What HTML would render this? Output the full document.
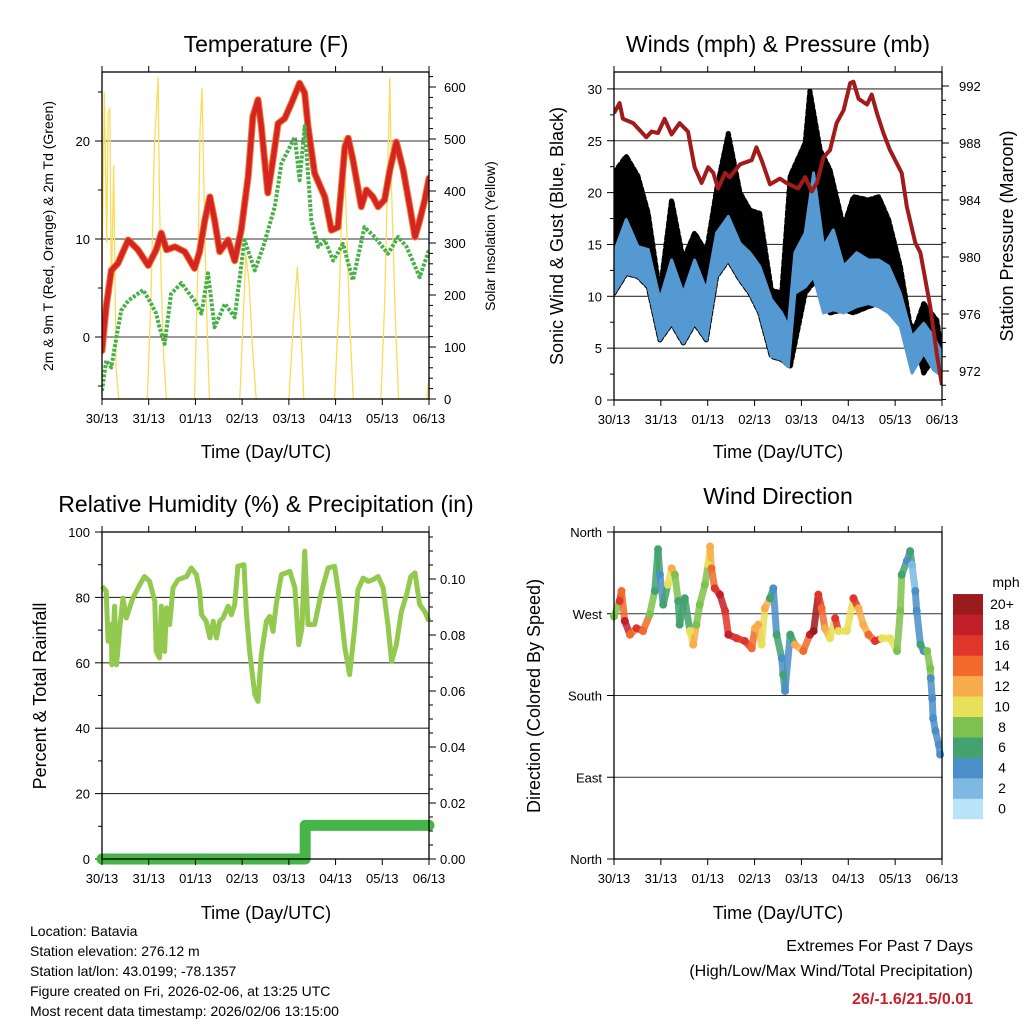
<!DOCTYPE html>
<html><head><meta charset="utf-8"><style>
body{margin:0;background:#fff}
svg{display:block;font-family:"Liberation Sans",Arial,sans-serif}
</style></head><body>
<svg id="chart" width="1024" height="1024" viewBox="0 0 1024 1024" xmlns="http://www.w3.org/2000/svg"></svg>
<script>
// ---------- DATA ----------
const dayLabels = ['30/13','31/13','01/13','02/13','03/13','04/13','05/13','06/13'];
// Temperature (F)
const tempT = [0,.09,.2,.34,.56,.77,.99,1.16,1.27,1.38,1.56,1.77,1.98,2.09,2.2,2.31,2.41,2.52,2.7,2.84,2.98,3.13,3.23,3.34,3.41,3.55,3.66,3.77,3.91,4.05,4.23,4.34,4.41,4.55,4.77,4.91,5.05,5.2,5.27,5.37,5.55,5.66,5.8,5.91,6.05,6.16,6.3,6.45,6.59,6.7,6.8,6.91,7];
const tempV = [-1.4,3.1,6.8,7.5,9.9,8.9,7.3,8.9,10.6,8.9,9.2,8.7,7.0,8.7,11.9,14.3,11.9,8.7,9.9,7.8,10.9,16.4,22.5,24.2,21.5,14.7,18.1,21.8,22.3,23.8,25.9,24.9,21.5,16.7,14.3,10.9,11.2,19.4,20.3,18.1,13.3,15.0,14.3,13.3,14.0,17.0,19.9,17.0,13.3,10.2,11.9,14.0,16.2];
const dewT = [0,.09,.2,.31,.41,.56,.88,1.02,1.16,1.23,1.34,1.48,1.7,1.98,2.13,2.27,2.41,2.63,2.84,3.05,3.27,3.45,3.7,3.84,4.13,4.23,4.34,4.48,4.63,4.77,4.95,5.16,5.37,5.62,5.84,6.12,6.34,6.52,6.8,7];
const dewV = [-5.5,-2.4,-3.1,0,2.7,3.7,4.8,3.7,2.4,1.0,-0.7,4.4,5.5,3.7,2.4,6.5,1.0,3.4,2.0,9.9,6.8,9.2,13.3,17.7,20.4,16.0,21.5,11.9,9.2,9.9,7.8,9.5,5.8,11.2,10.2,8.5,10.2,9.2,6.1,8.9];
const solarT = [0,.05,.1,.13,.17,.2,.25,.3,.36, .97,1.05,1.12,1.2,1.23,1.27,1.32,1.38, 1.98,2.05,2.1,2.14,2.18,2.23,2.3, 2.95,3.02,3.08,3.15,3.22,3.3, 4.0,4.1,4.18,4.25,4.32, 4.98,5.08,5.15,5.18,5.22,5.3,5.38, 5.97,6.05,6.12,6.16,6.2,6.28,6.35, 6.95,7];
const solarV = [250,590,300,550,560,200,450,60,0, 0,200,480,620,380,220,80,0, 0,250,520,598,420,200,0, 0,150,280,220,100,0, 0,150,254,150,0, 0,200,420,504,380,150,0, 0,180,450,618,400,150,0, 0,40];
// Winds (mph) & pressure (mb)
const windT = [0,.26,.51,.73,.98,1.23,1.48,1.72,1.97,2.19,2.44,2.69,2.9,3.11,3.36,3.58,3.72,3.86,4.08,4.26,4.47,4.68,4.9,5.18,5.43,5.65,5.86,6.11,6.36,6.61,6.82,7];
const windLow = [10.3,12.2,11.9,10.9,5.8,7.4,5.5,7.4,5.8,11.9,13.5,11.6,10.3,8.4,4.2,3.9,3.2,10.3,10.9,11.9,8.4,8.7,8.4,9.0,9.3,9.0,8.4,7.1,2.6,4.5,2.9,2.3];
const windHigh = [14.2,17.4,14.8,14.5,9.7,13.5,10.3,13.5,10.6,16.1,17.7,15.1,14.2,12.9,9.7,8.4,7.1,14.2,16.1,21.9,14.8,16.4,12.9,14.2,13.5,13.5,12.9,10.3,6.1,7.4,6.1,4.5];
const gustT = [0,.26,.51,.73,.98,1.23,1.48,1.72,1.97,2.19,2.44,2.69,2.9,3.11,3.36,3.58,3.76,4.08,4.18,4.4,4.61,4.9,5.11,5.43,5.65,5.86,6.11,6.36,6.61,6.89,7];
const gustHigh = [21.9,23.5,21.6,18,10.3,19.3,13.5,16.1,14.2,20.3,25.7,20,18.3,18,10.6,10.3,21.6,24.8,29.8,24.1,22.2,16.7,19.6,19.3,19.6,17.4,12.9,6.1,9.3,7.7,4.5];
const presT = [0,.12,.19,.41,.69,.80,.94,1.08,1.23,1.40,1.58,1.72,1.87,2.01,2.12,2.22,2.37,2.47,2.69,2.94,3.04,3.15,3.33,3.54,3.68,3.93,4.08,4.22,4.33,4.47,4.61,4.75,4.9,5.04,5.11,5.22,5.4,5.5,5.61,5.75,5.89,6.14,6.25,6.43,6.54,6.75,6.89,7];
const presV = [990.1,990.8,989.7,989.4,988.4,988.8,988.7,989.7,988.6,989.4,988.8,986.3,985.2,986.3,985.9,984.8,985.9,985.6,986.5,986.8,987.7,986.8,985.1,985.5,985.2,984.8,985.6,984.6,985.2,987.0,987.5,989.4,990.3,992.2,992.3,991.1,990.7,991.4,990.1,988.7,987.5,985.9,983.5,981.0,980.3,976.5,973.2,971.0];
// Relative humidity (%) & precipitation (in)
const rhT = [0,.09,.13,.2,.21,.27,.31,.38,.45,.52,.66,.81,.91,1.02,1.13,1.16,1.23,1.27,1.34,1.38,1.45,1.52,1.63,1.81,1.91,2.02,2.09,2.13,2.23,2.31,2.38,2.45,2.52,2.59,2.7,2.77,2.84,2.91,3.04,3.09,3.16,3.27,3.34,3.41,3.52,3.59,3.66,3.73,3.84,3.95,4.02,4.13,4.21,4.28,4.32,4.34,4.41,4.55,4.7,4.84,4.98,5.09,5.2,5.3,5.41,5.48,5.59,5.7,5.8,5.91,6.02,6.12,6.2,6.3,6.41,6.52,6.61,6.7,6.8,6.91,7];
const rhV = [83.4,81.9,66.6,71.7,59.4,77.3,59.4,70.6,79.8,73.7,79.8,83.9,86.4,84.9,78.8,63.5,61.5,77.3,63.5,76.8,71.7,82.9,85.4,86.4,89.0,87.0,81.9,74.7,72.7,67.6,72.7,67.6,72.7,73.7,77.3,74.7,77.8,89.5,90.0,75.7,63.5,50.3,48.2,62.5,72.7,74.2,69.6,77.8,87.0,87.5,88.0,82.9,65.5,70.6,86.4,94.1,71.7,71.7,81.9,89.0,89.5,78.8,64.5,56.4,70.6,82.4,85.9,84.9,85.4,86.4,82.9,71.7,60.4,65.5,75.7,80.8,86.4,87.5,77.8,75.7,72.7];
const precipT = [0,4.35,4.35,7];
const precipV = [0,0,0.012,0.012];
// Wind direction (deg) colored by speed (mph)
const dirT = [0,.12,.16,.23,.34,.48,.62,.76,.87,.94,.98,1.05,1.15,1.23,1.30,1.37,1.40,1.51,1.62,1.69,1.76,1.83,1.94,2.01,2.05,2.08,2.15,2.26,2.37,2.44,2.62,2.79,2.94,3.01,3.08,3.15,3.22,3.33,3.40,3.47,3.58,3.61,3.65,3.76,3.86,4.04,4.18,4.26,4.36,4.43,4.50,4.61,4.72,4.79,4.97,5.11,5.22,5.32,5.43,5.57,5.72,5.89,6.04,6.11,6.14,6.25,6.32,6.36,6.43,6.46,6.54,6.61,6.68,6.75,6.76,6.79,6.81,6.86,6.93,6.96];
const dirV = [267,284,295,262,247,254,251,269,295,341,313,280,302,320,313,284,258,287,251,236,258,280,302,324,344,320,298,291,273,247,243,240,232,254,258,236,276,287,298,247,221,203,185,247,236,229,247,251,291,276,254,243,265,251,251,287,276,258,247,240,243,243,229,273,313,328,339,324,295,273,236,229,229,210,199,177,155,141,126,115];
const dirSpd = [8,16,14,18,14,16,14,8,6,6,4,6,10,12,8,6,6,6,10,12,8,8,8,10,12,14,16,18,16,18,16,16,14,12,12,10,12,6,4,6,4,6,4,6,12,14,18,20,16,14,12,10,16,10,10,16,12,12,14,16,10,10,8,8,6,4,6,3,4,4,6,4,8,8,4,4,4,4,4,4];
const speedLabels = ['0','2','4','6','8','10','12','14','16','18','20+'];
const speedColors = ['#b8e3f8','#7db9e3','#4a8fc7','#42a36e','#7dc24e','#e8e05a','#f8ac4c','#f26a2c','#e0352a','#c1202a','#9b1a1e'];

// ---------- HELPERS ----------
const NS = 'http://www.w3.org/2000/svg';
const svg = document.getElementById('chart');
function mk(tag, attrs, parent) {
  const e = document.createElementNS(NS, tag);
  for (const k in attrs) e.setAttribute(k, attrs[k]);
  (parent || svg).appendChild(e);
  return e;
}
function txt(s, x, y, size, anchor, parent, extra) {
  const e = mk('text', Object.assign({x: x, y: y, 'font-size': size, 'text-anchor': anchor || 'middle', fill: '#000'}, extra || {}), parent);
  e.textContent = s;
  return e;
}
function pathD(ts, vs, sx, sy) {
  return ts.map((t, i) => (i ? 'L' : 'M') + sx(t).toFixed(1) + ',' + sy(vs[i]).toFixed(1)).join(' ');
}
function bandD(ts, lo, hi, sx, sy) {
  let d = ts.map((t, i) => (i ? 'L' : 'M') + sx(t).toFixed(1) + ',' + sy(hi[i]).toFixed(1)).join(' ');
  for (let i = ts.length - 1; i >= 0; i--) d += ' L' + sx(ts[i]).toFixed(1) + ',' + sy(lo[i]).toFixed(1);
  return d + ' Z';
}
function xTicks(g, x0, x1, y1, sx) {
  dayLabels.forEach((lab, i) => {
    const x = sx(i);
    const tk = mk('line', {x1: x, x2: x, y1: y1, y2: y1 + 6, stroke: '#000', 'stroke-width': 1}, g);
    
    
    const tl = txt(lab, x, y1 + 24, 13, 'middle', g);
    
    
  });
}
function topTicks(g, y0, sx) {
  dayLabels.forEach((lab, i) => {
    const x = sx(i);
    const tk = mk('line', {x1: x, x2: x, y1: y0, y2: y0 - 6, stroke: '#000', 'stroke-width': 1}, g);
    
    
  });
}
function leftAxis(g, x0, x1, vals, labels, sy, grid, minor) {
  minor.forEach(v => {
    const m = mk('line', {x1: x0 - 4, x2: x0, y1: sy(v), y2: sy(v), stroke: '#000'}, g);
    
    
  });
  vals.forEach((v, i) => {
    const y = sy(v);
    const tk = mk('line', {x1: x0 - 7, x2: x0, y1: y, y2: y, stroke: '#000'}, g);
    
    
    if (grid[i]) {
      const gl = mk('line', {x1: x0, x2: x1, y1: y, y2: y, stroke: '#333', 'stroke-width': 1.1}, g);
      
      
    }
    const tl = txt(labels[i], x0 - 12, y + 5, 13, 'end', g);
    
    
  });
}
function rightAxis(g, x1, vals, labels, sy, minor, off) {
  minor.forEach(v => {
    const m = mk('line', {x1: x1, x2: x1 + 4, y1: sy(v), y2: sy(v), stroke: '#000'}, g);
    
    
  });
  vals.forEach((v, i) => {
    const y = sy(v);
    const tk = mk('line', {x1: x1, x2: x1 + 7, y1: y, y2: y, stroke: '#000'}, g);
    
    
    const tl = txt(labels[i], x1 + off, y + 5, 13, 'start', g);
    
    
  });
}
function frame(g, x0, y0, x1, y1) {
  const r = mk('rect', {x: x0, y: y0, width: x1 - x0, height: y1 - y0, fill: 'none', stroke: '#000', 'stroke-width': 1.3}, g);
  
  
}
function rng(a, b, s) { const r = []; for (let v = a; v <= b + 1e-9; v += s) r.push(+v.toFixed(4)); return r; }

// ---------- PANEL 1: TEMPERATURE ----------
(function () {
  const g = mk('g', {});
  
  
  const X0 = 102, X1 = 429, Y0 = 72, Y1 = 399;
  const sx = t => X0 + t / 7 * (X1 - X0);
  const sy = v => 337 - v * 9.8;
  const ss = v => 399 - v * 0.52;
  const clip = mk('clipPath', {id: 'c1'}, g);
  mk('rect', {x: X0, y: Y0, width: X1 - X0, height: Y1 - Y0}, clip);
  leftAxis(g, X0, X1, [0, 10, 20], ['0', '10', '20'], sy, [1, 1, 1], [-5, 5, 15, 25]);
  rightAxis(g, X1, [0, 100, 200, 300, 400, 500, 600], ['0', '100', '200', '300', '400', '500', '600'], ss, rng(0, 620, 20), 15);
  const pg = mk('g', {'clip-path': 'url(#c1)'}, g);
  const sol = mk('path', {d: pathD(solarT, solarV, sx, ss), fill: 'none', stroke: '#fbdc5a', 'stroke-width': 1.3}, pg);
  
  
  const t9 = mk('path', {d: pathD(tempT, tempV, sx, sy), fill: 'none', stroke: '#f07a2a', 'stroke-width': 7, 'stroke-linejoin': 'round', 'stroke-linecap': 'round'}, pg);
  
  
  const t2 = mk('path', {d: pathD(tempT, tempV, sx, sy), fill: 'none', stroke: '#d42424', 'stroke-width': 5, 'stroke-linejoin': 'round', 'stroke-linecap': 'round'}, pg);
  
  
  const dw = mk('path', {d: pathD(dewT, dewV, sx, sy), fill: 'none', stroke: '#47b047', 'stroke-width': 4, 'stroke-dasharray': '3 1.6', 'stroke-linejoin': 'round'}, pg);
  
  
  frame(g, X0, Y0, X1, Y1);
  topTicks(g, Y0, sx);
  xTicks(g, X0, X1, Y1, sx);
  const ti = txt('Temperature (F)', 266, 52, 23, 'middle', g);
  
  
  const xt = txt('Time (Day/UTC)', 266, 458, 18, 'middle', g);
  
  
  const yl = txt('2m & 9m T (Red, Orange) & 2m Td (Green)', 0, 0, 14, 'middle', g, {transform: 'translate(53,236) rotate(-90)'});
  
  
  const yr = txt('Solar Insolation (Yellow)', 0, 0, 14, 'middle', g, {transform: 'translate(495,236) rotate(-90)'});
  
  
})();

// ---------- PANEL 2: WINDS ----------
(function () {
  const g = mk('g', {});
  
  
  const X0 = 614, X1 = 942, Y0 = 72, Y1 = 400;
  const sx = t => X0 + t / 7 * (X1 - X0);
  const sy = v => 400 - v * 10.37;
  const sp = p => 371 - (p - 972) * 14.25;
  const clip = mk('clipPath', {id: 'c2'}, g);
  mk('rect', {x: X0, y: Y0, width: X1 - X0, height: Y1 - Y0}, clip);
  leftAxis(g, X0, X1, [0, 5, 10, 15, 20, 25, 30], ['0', '5', '10', '15', '20', '25', '30'], sy, [0, 1, 1, 1, 1, 1, 1], [2.5, 7.5, 12.5, 17.5, 22.5, 27.5]);
  rightAxis(g, X1, [972, 976, 980, 984, 988, 992], ['972', '976', '980', '984', '988', '992'], sp, rng(970, 992, 1), 17);
  const pg = mk('g', {'clip-path': 'url(#c2)'}, g);
  const gustLow = gustT.map((t, i) => windLow[Math.min(i, windLow.length - 1)]);
  const gb = mk('path', {d: bandD(gustT, gustLow, gustHigh, sx, sy), fill: '#000', stroke: '#000', 'stroke-width': 5, 'stroke-linejoin': 'round', 'stroke-dasharray': '4 3', 'stroke-linecap': 'round'}, pg);
  
  
  const wb = mk('path', {d: bandD(windT, windLow, windHigh, sx, sy), fill: '#5599d2', stroke: '#5599d2', 'stroke-width': 3, 'stroke-linejoin': 'round'}, pg);
  
  
  const pr = mk('path', {d: pathD(presT, presV, sx, sp), fill: 'none', stroke: '#a11b1b', 'stroke-width': 4, 'stroke-linejoin': 'round'}, pg);
  
  
  frame(g, X0, Y0, X1, Y1);
  topTicks(g, Y0, sx);
  xTicks(g, X0, X1, Y1, sx);
  const ti = txt('Winds (mph) & Pressure (mb)', 778, 52, 23, 'middle', g);
  
  
  const xt = txt('Time (Day/UTC)', 778, 458, 18, 'middle', g);
  
  
  const yl = txt('Sonic Wind & Gust (Blue, Black)', 0, 0, 18, 'middle', g, {transform: 'translate(563,236) rotate(-90)'});
  
  
  const yr = txt('Station Pressure (Maroon)', 0, 0, 18, 'middle', g, {transform: 'translate(1013,236) rotate(-90)'});
  
  
})();

// ---------- PANEL 3: RH & PRECIP ----------
(function () {
  const g = mk('g', {});
  
  
  const X0 = 102, X1 = 429, Y0 = 532, Y1 = 859;
  const sx = t => X0 + t / 7 * (X1 - X0);
  const sy = v => 859 - v * 3.27;
  const spr = v => 859 - v * 2800;
  const clip = mk('clipPath', {id: 'c3'}, g);
  mk('rect', {x: X0 - 8, y: Y0, width: X1 - X0 + 16, height: Y1 - Y0 + 8}, clip);
  leftAxis(g, X0, X1, [0, 20, 40, 60, 80, 100], ['0', '20', '40', '60', '80', '100'], sy, [0, 1, 1, 1, 1, 0], [10, 30, 50, 70, 90]);
  rightAxis(g, X1, [0, .02, .04, .06, .08, .10], ['0.00', '0.02', '0.04', '0.06', '0.08', '0.10'], spr, rng(0, .115, .005), 11);
  const pg = mk('g', {'clip-path': 'url(#c3)'}, g);
  const rh = mk('path', {d: pathD(rhT, rhV, sx, sy), fill: 'none', stroke: '#93c94e', 'stroke-width': 5, 'stroke-linejoin': 'round'}, pg);
  
  
  const pc = mk('path', {d: pathD(precipT, precipV, sx, spr), fill: 'none', stroke: '#46b446', 'stroke-width': 11, 'stroke-linecap': 'round', 'stroke-linejoin': 'round'}, pg);
  
  
  frame(g, X0, Y0, X1, Y1);
  topTicks(g, Y0, sx);
  xTicks(g, X0, X1, Y1, sx);
  const ti = txt('Relative Humidity (%) & Precipitation (in)', 266, 512, 23, 'middle', g);
  
  
  const xt = txt('Time (Day/UTC)', 266, 919, 18, 'middle', g);
  
  
  const yl = txt('Percent & Total Rainfall', 0, 0, 18, 'middle', g, {transform: 'translate(46,696) rotate(-90)'});
  
  
})();

// ---------- PANEL 4: WIND DIRECTION ----------
(function () {
  const g = mk('g', {});
  
  
  const X0 = 614, X1 = 942, Y0 = 532, Y1 = 859;
  const sx = t => X0 + t / 7 * (X1 - X0);
  const sy = d => 859 - d / 360 * 327;
  const col = s => speedColors[Math.min(10, Math.floor(s / 2))];
  leftAxis(g, X0, X1, [0, 90, 180, 270, 360], ['North', 'East', 'South', 'West', 'North'], sy, [0, 1, 1, 1, 0], []);
  const pg = mk('g', {}, g);
  for (let i = 0; i < dirT.length - 1; i++) {
    const s = mk('line', {x1: sx(dirT[i]), y1: sy(dirV[i]), x2: sx(dirT[i + 1]), y2: sy(dirV[i + 1]), stroke: col(dirSpd[i]), 'stroke-width': 7, 'stroke-linecap': 'round', opacity: 0.85}, pg);
    
    
  }
  dirT.forEach((t, i) => {
    const c = mk('circle', {cx: sx(t), cy: sy(dirV[i]), r: 4, fill: col(dirSpd[i])}, pg);
    
    
  });
  frame(g, X0, Y0, X1, Y1);
  topTicks(g, Y0, sx);
  xTicks(g, X0, X1, Y1, sx);
  // colorbar
  const cb = mk('g', {}, g);
  
  
  speedColors.forEach((c, i) => {
    const y = 819 - (i + 1) * 20.45;
    const r = mk('rect', {x: 953, y: y, width: 30, height: 20.7, fill: c}, cb);
    
    
    const l = txt(speedLabels[i], 1002, y + 15, 14, 'middle', cb);
    
    
  });
  const mph = txt('mph', 1006, 587, 14, 'middle', cb);
  
  
  const ti = txt('Wind Direction', 778, 504, 23, 'middle', g);
  
  
  const xt = txt('Time (Day/UTC)', 778, 919, 18, 'middle', g);
  
  
  const yl = txt('Direction (Colored By Speed)', 0, 0, 18, 'middle', g, {transform: 'translate(540,696) rotate(-90)'});
  
  
})();

// ---------- FOOTER ----------
const infoLines = ['Location: Batavia', 'Station elevation: 276.12 m', 'Station lat/lon: 43.0199; -78.1357', 'Figure created on Fri, 2026-02-06, at 13:25 UTC', 'Most recent data timestamp: 2026/02/06 13:15:00'];
infoLines.forEach((s, i) => {
  const t = txt(s, 30, 936 + i * 20, 14, 'start');
  
  
});
const e1 = txt('Extremes For Past 7 Days', 973, 951, 16, 'end');


const e2 = txt('(High/Low/Max Wind/Total Precipitation)', 973, 976, 16, 'end');


const e3 = txt('26/-1.6/21.5/0.01', 973, 1004, 16, 'end', null, {fill: '#c8202a', 'font-weight': 'bold'});


</script>
</body></html>
